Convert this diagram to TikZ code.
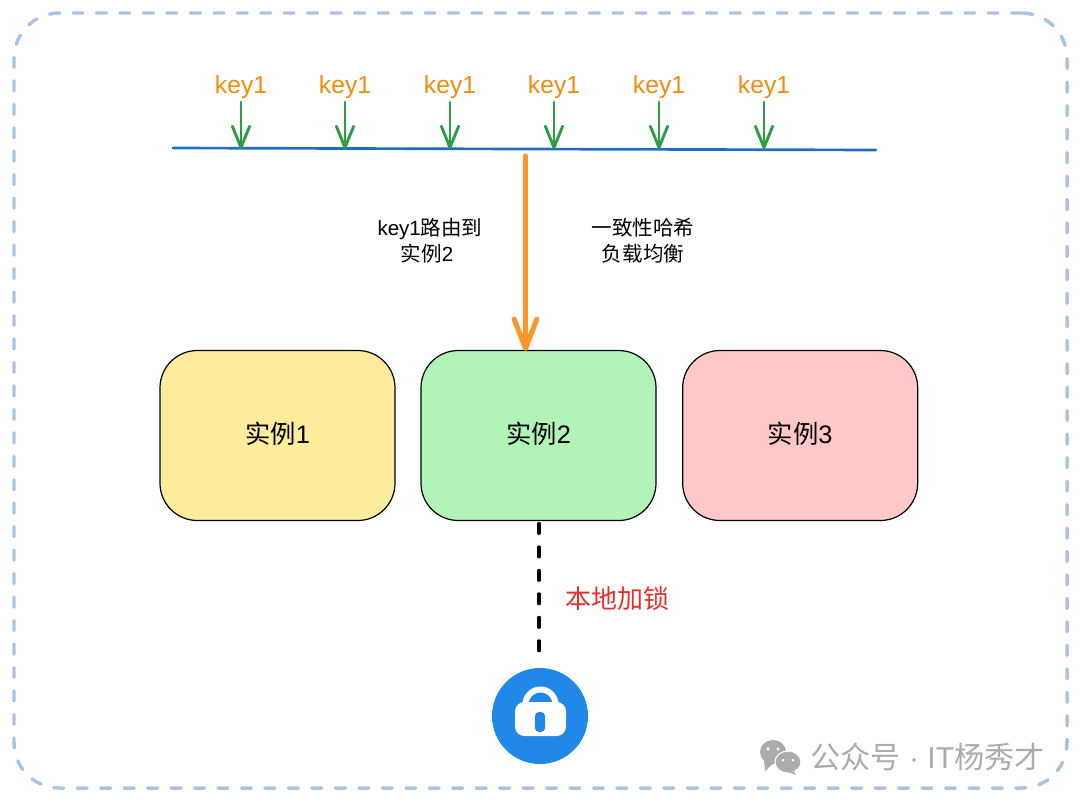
\documentclass[tikz,border=0pt]{standalone}
\usepackage{fontspec}
\setmainfont{Liberation Sans}
\newfontfamily\cjk{Noto Sans CJK SC}
\usetikzlibrary{positioning}
\usetikzlibrary{arrows.meta}

\definecolor{framecol}{HTML}{A9C4E0}
\definecolor{keycol}{HTML}{F58A0B}
\definecolor{tickcol}{HTML}{2E9E46}
\definecolor{buscol}{HTML}{1F6FC0}
\definecolor{routecol}{HTML}{FF9427}
\definecolor{lockcol}{HTML}{1F88E8}
\definecolor{markcol}{HTML}{ABABAB}
\definecolor{redcol}{HTML}{E8312F}

\tikzset{
  inst/.style={draw, line width=0.9pt, rounded corners=28pt, minimum width=176.25pt, minimum height=127.5pt, outer sep=0pt, font=\fontsize{19}{24}\selectfont},
  keylabel/.style={text=keycol, inner sep=0pt, font=\fontsize{18.5}{22}\selectfont},
  note/.style={align=center, inner sep=0pt, font=\fontsize{15.4}{19.5}\selectfont},
  tick/.style={-{Straight Barb[round, length=16pt, width=13pt]}, tickcol, line width=2.2pt, line cap=round},
}

\begin{document}
\begin{tikzpicture}[x=0.75pt, y=-0.75pt]
      \useasboundingbox (0,0) rectangle (1080,801);

      \node[draw=framecol, line width=2.6pt, dash pattern=on 7.5pt off 10.1pt, line cap=round, rounded corners=34pt, minimum width=789.75pt, minimum height=581.25pt, outer sep=0pt] (outer) at (540.5,400.5) {};

      % bus with the incoming keys
      \coordinate (busl) at (173,148);
      \coordinate (busr) at (876,150);
      \draw[buscol, line width=2pt, line cap=round] (busl) -- (busr);

      \foreach \x [count=\i] in {241,345,450,554,659,764} {
        \node[keylabel] (key\i) at (\x,87) {key1};
        \coordinate (tip\i) at (\x,149);
        \draw[tick] (\x,102) -- (tip\i);
      }

      % instances
      \node[inst, fill={rgb,255:red,253;green,236;blue,155}] (c1) at (277.5,435.5) {\raisebox{4.5pt}{{\cjk 实例}1}};
      \node[inst, fill={rgb,255:red,178;green,243;blue,184}, right=19.5pt of c1] (c2) {\raisebox{4.5pt}{{\cjk 实例}2}};
      \node[inst, fill={rgb,255:red,255;green,201;blue,201}, right=20pt of c2] (c3) {\raisebox{4.5pt}{{\cjk 实例}3}};

      \coordinate (routetop) at (525.5,156);
      \coordinate (routeend) at (525.5,351);
      \draw[-{Straight Barb[round, length=22pt, width=17pt]}, routecol, line width=3.8pt, line cap=round] (routetop) -- (routeend);

      \node[note] (n1) at (430,241) {key1{\cjk 路由到}\\{\cjk 实例}2\hspace*{4.5pt}};
      \node[note] (n2) at (643,241) {{\cjk 一致性哈希}\\{\cjk 负载均衡}};

      % lock
      \node[circle, fill=lockcol, minimum size=72pt, inner sep=0pt] (lock) at (540,716) {};
      \coordinate (dashend) at (539,652);
      \draw[line width=2.3pt, line cap=round, dash pattern=on 7.5pt off 10.1pt, shorten <=2.2pt] (c2.south -| dashend) -- (dashend);
      \node[text=redcol, inner sep=0pt, font=\cjk\fontsize{19.5}{24}\selectfont] (lab) at (617,599) {本地加锁};

      \draw[white, line width=4.5pt] (525,706) .. controls (526,684) and (555,684) .. (556,706);
      \fill[white, rounded corners=7pt] (515,702) rectangle (566,736);
      \fill[lockcol, rounded corners=3pt] (535,712) rectangle (545,732);

      % watermark
      \fill[markcol] (773,752) ellipse [x radius=13, y radius=12];
      \fill[markcol] (764,760) -- (765,771) -- (775,762) -- cycle;
      \fill[markcol, draw=white, line width=0.8pt] (788,762) ellipse [x radius=13, y radius=11];
      \fill[markcol] (793,770) -- (796,775) -- (786,771) -- cycle;
      \fill[white] (768,749) circle (1.7) (778,749) circle (1.7) (783,760) circle (1.5) (793,760) circle (1.5);
      \node[anchor=west, text=markcol, inner sep=0pt, font=\fontsize{22.6}{27}\selectfont] (mark) at (810,757) {{\cjk 公众号} · IT{\cjk 杨秀才}};

  \end{tikzpicture}
\end{document}
